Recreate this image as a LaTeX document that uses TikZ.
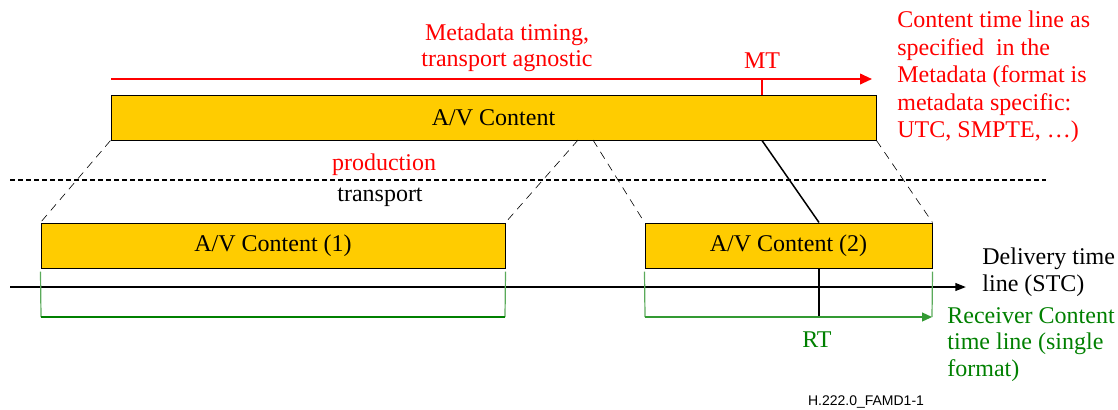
\documentclass[tikz,border=0pt]{standalone}
\usepackage{fontspec}
\setmainfont{Liberation Serif}
\newfontfamily\figfont{Liberation Sans}
\usepackage{tikz}
\usetikzlibrary{arrows.meta}
\definecolor{avyellow}{RGB}{255,204,0}
\definecolor{rxgreen}{RGB}{0,128,0}
\definecolor{rxlight}{RGB}{90,170,90}

\tikzset{
  avbox/.style={draw, fill=avyellow, line width=0.5pt, inner sep=0pt, minimum height=22.5pt, font=\fontsize{12}{13.5}\selectfont},
  lbl/.style={inner sep=0pt, font=\fontsize{12}{13.75}\selectfont},
  slant/.style={dash pattern=on 4pt off 3pt, line width=0.3pt},
}

\begin{document}
\begin{tikzpicture}[x=0.5pt,y=-0.5pt]
	  \useasboundingbox (0,0) rectangle (1118,409);
	  % content blocks
	  \node[avbox, minimum width=382.5pt] (av) at (493.5,117.5) {A/V Content};
	  \node[avbox, minimum width=232pt] (av1) at (273,245.5) {A/V Content (1)};
	  \node[avbox, minimum width=143.5pt] (av2) at (788.5,245.5) {A/V Content (2)};

	  % metadata time line
	  \coordinate (mt0) at (111,79);
	  \coordinate (mt1) at (872,79);
	  \coordinate (mt) at (762,79);
	  \draw[red, line width=1pt, -{Triangle[length=6pt,width=5.3pt]}] (mt0) -- (mt1);
	  \draw[red, line width=0.75pt] (mt) -- (mt |- av.north);
	  \node[lbl, red, anchor=base] (mtlabel) at (762,68) {MT};
	  \node[lbl, red, anchor=base, align=center, font=\fontsize{12}{13}\selectfont] (agnostic) at (507,66.7) {Metadata timing,\\transport agnostic};
	  \node[lbl, red, anchor=base west, align=left] (ctline) at (897,137.5) {Content time line as\\specified\ \ in the\\Metadata (format is\\metadata specific:\\UTC, SMPTE, \ldots)};

	  % production / transport
	  \coordinate (sep0) at (10,180);
	  \coordinate (sep1) at (1046,180);
	  \draw[dash pattern=on 2.5pt off 1.5pt, line width=0.7pt] (sep0) -- (sep1);
	  \node[lbl, red, anchor=base] (prod) at (384,170.5) {production};
	  \node[lbl, anchor=base] (trans) at (380,201) {transport};

	  % split of the content
	  \coordinate (sa) at (578,140);
	  \coordinate (sb) at (593,140);
	  \draw[slant] (av.south west) -- (av1.north west);
	  \draw[slant] (sa) -- (av1.north east);
	  \draw[slant] (sb) -- (av2.north west);
	  \draw[slant] (av.south east) -- (av2.north east);

	  % delivery time line
	  \coordinate (dl0) at (10,287);
	  \coordinate (dl1) at (966,287);
	  \draw[line width=1pt, -{Triangle[length=5.3pt,width=3.8pt]}] (dl0) -- (dl1);
	  \node[lbl, anchor=base west, align=left] (dtline) at (982,291.7) {Delivery time\\line (STC)};

	  % MT mapped to RT
	  \coordinate (rt) at (819,317);
	  \draw[line width=0.75pt] (mt |- av.south) -- (rt |- av2.north);
	  \draw[line width=1pt] (rt |- av2.south) -- (rt);

	  % receiver time lines
	  \coordinate (g1a) at (41,317);
	  \coordinate (g1b) at (505,317);
	  \coordinate (g2a) at (645,317);
	  \coordinate (g2b) at (932,317);
	  \draw[rxlight, line width=0.6pt] ([yshift=-1.5pt]av1.south west) -- (g1a);
	  \draw[rxlight, line width=0.6pt] ([yshift=-1.5pt]av1.south east) -- (g1b);
	  \draw[rxgreen, line width=1pt] (g1a) -- (g1b);
	  \draw[rxlight, line width=0.6pt] ([yshift=-1.5pt]av2.south west) -- (g2a);
	  \draw[rxlight, line width=0.6pt] ([yshift=-1.5pt]av2.south east) -- (g2b);
	  \draw[rxgreen!80!white, line width=0.6pt, -{Triangle[length=5pt,width=4.5pt]}] (g2a) -- (g2b);
	  \node[lbl, rxgreen, anchor=base] (rtlabel) at (817,347.5) {RT};
	  \node[lbl, rxgreen, anchor=base west, align=left, font=\fontsize{12}{13.25}\selectfont] (rcline) at (947,376) {Receiver Content\\time line (single\\format)};

	  \node[inner sep=0pt, anchor=base, font=\figfont\fontsize{7}{8}\selectfont] (figid) at (866,405) {H.222.0\_FAMD1-1};
		\end{tikzpicture}
\end{document}
